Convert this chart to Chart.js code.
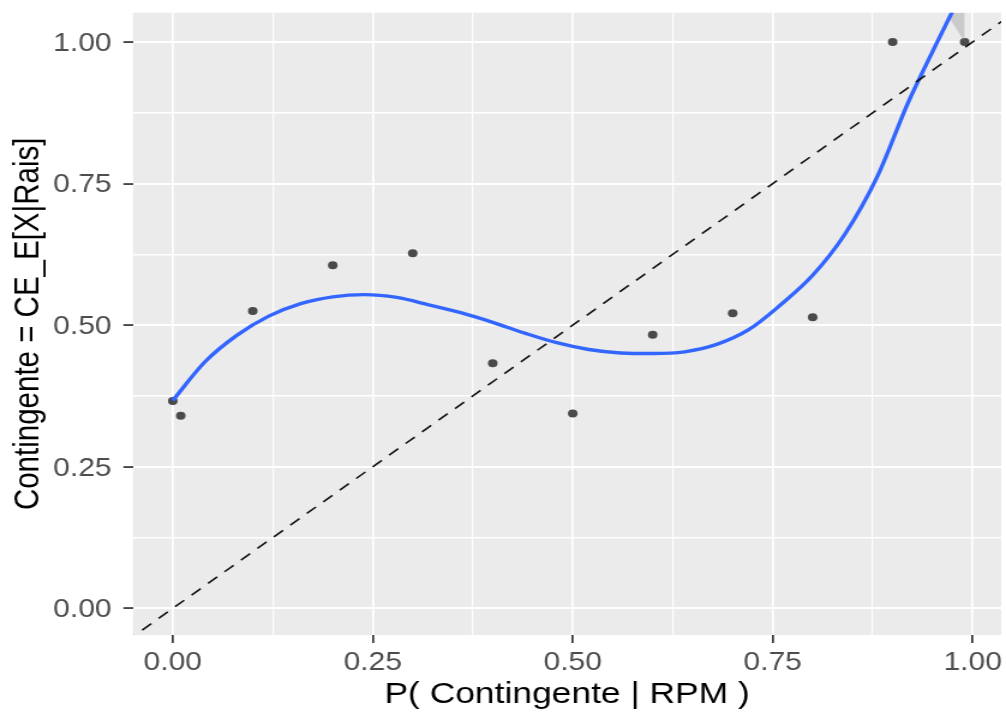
<!DOCTYPE html>
<html><head><meta charset="utf-8">
<script src="https://cdn.jsdelivr.net/npm/chart.js@4.4.0/dist/chart.umd.min.js"></script>
<style>html,body{margin:0;padding:0;background:#fff;overflow:hidden}</style>
</head>
<body>
<canvas id="c" width="838" height="712" style="display:block;width:1006px;height:712px"></canvas>
<script>
// ---- data ----
const pointX = [0, 0.01, 0.1, 0.2, 0.3, 0.4, 0.5, 0.6, 0.7, 0.8, 0.9, 0.99];
const pointY = [0.366, 0.340, 0.525, 0.606, 0.627, 0.433, 0.344, 0.483, 0.521, 0.514, 1.0, 1.0];

const smoothX = [0, 0.04, 0.08, 0.12, 0.16, 0.20, 0.24, 0.28, 0.32, 0.36, 0.40, 0.44, 0.48, 0.52, 0.56, 0.60, 0.64, 0.68, 0.72, 0.76, 0.80, 0.84, 0.88, 0.92, 0.96, 0.975, 0.99];
const smoothY = [0.367, 0.435, 0.482, 0.516, 0.538, 0.550, 0.554, 0.549, 0.536, 0.522, 0.505, 0.486, 0.469, 0.457, 0.451, 0.450, 0.453, 0.466, 0.492, 0.536, 0.588, 0.660, 0.760, 0.895, 1.012, 1.055, 1.100];

const ribbonX = [0.972, 0.990];
const ribbonLow = [1.040, 1.000];
const ribbonHigh = [1.200, 1.200];

const refX = [-0.1, 1.1];   // identity reference line y = x
const refY = [-0.1, 1.1];

const xTickLabels = ['0.00', '0.25', '0.50', '0.75', '1.00'];
const yTickLabels = ['0.00', '0.25', '0.50', '0.75', '1.00'];

const xTitle = 'P( Contingente | RPM )';
const yTitle = 'Contingente = CE_E[X|Rais]';

// ---- helpers ----
const FAMILY = '"Liberation Sans", Arial, Helvetica, sans-serif';
const zip = (xs, ys) => xs.map((x, i) => ({x, y: ys[i]}));
const isMajor = v => Math.abs(v * 4 - Math.round(v * 4)) < 1e-6;
const labelFor = (arr) => (v) => isMajor(v) ? (arr[Math.round(v * 4)] ?? '') : '';

const panelBg = {
  id: 'panelBg',
  beforeDraw(chart) {
    const {ctx, chartArea: a} = chart;
    ctx.save();
    ctx.fillStyle = '#EBEBEB';
    ctx.fillRect(a.left, a.top, a.right - a.left, a.bottom - a.top);
    ctx.restore();
  }
};

function zeroPad(s) { s.paddingTop = 0; s.paddingBottom = 0; s.paddingLeft = 0; s.paddingRight = 0; }

function gridOpts(majorW, minorW) {
  return {
    color: '#FFFFFF',
    lineWidth: c => (c.tick && !isMajor(c.tick.value)) ? minorW : majorW,
    tickColor: c => (c.tick && !isMajor(c.tick.value)) ? 'rgba(0,0,0,0)' : '#333333',
    tickLength: 8,
    tickWidth: 1.7,
    drawTicks: true
  };
}

new Chart(document.getElementById('c'), {
  type: 'scatter',
  data: {
    datasets: [
      { // dashed reference line
        data: zip(refX, refY), showLine: true, pointRadius: 0,
        borderColor: '#111111', borderWidth: 1.6, borderDash: [10, 8],
        clip: 0, fill: false
      },
      { // smooth
        data: zip(smoothX, smoothY), showLine: true, pointRadius: 0,
        borderColor: '#3366FF', borderWidth: 3.4,
        cubicInterpolationMode: 'monotone', clip: 0, fill: false
      },
      { // ribbon upper
        data: zip(ribbonX, ribbonHigh), showLine: true, pointRadius: 0,
        borderWidth: 0, borderColor: 'rgba(0,0,0,0)',
        backgroundColor: 'rgba(153,153,153,0.4)', fill: '+1', clip: 0
      },
      { // ribbon lower
        data: zip(ribbonX, ribbonLow), showLine: true, pointRadius: 0,
        borderWidth: 0, borderColor: 'rgba(0,0,0,0)', fill: false, clip: 0
      },
      { // points
        data: zip(pointX, pointY), showLine: false,
        pointRadius: 4, pointBackgroundColor: '#4A4A4A', pointBorderColor: '#4A4A4A',
        pointBorderWidth: 0, clip: 0
      }
    ]
  },
  options: {
    responsive: false,
    animation: false,
    devicePixelRatio: 1,
    layout: { padding: { top: 12.7, right: 2.3, left: 0, bottom: 0 } },
    plugins: { legend: { display: false }, tooltip: { enabled: false } },
    scales: {
      x: {
        type: 'linear', min: -0.0497, max: 1.0357,
        afterFit(s) { s.height = 77; zeroPad(s); },
        border: { display: false },
        grid: gridOpts(1.7, 1.15),
        ticks: {
          stepSize: 0.125, includeBounds: false, autoSkip: false, maxRotation: 0,
          color: '#4D4D4D', padding: 8,
          font: { family: FAMILY, size: 25, lineHeight: 1 },
          callback: labelFor(xTickLabels)
        },
        title: {
          display: true, text: xTitle, color: '#000000',
          font: { family: FAMILY, size: 29.5, lineHeight: 1 },
          padding: { top: 0, bottom: 2.4 }
        }
      },
      y: {
        type: 'linear', min: -0.047, max: 1.0517,
        afterFit(s) { s.width = 110.8; zeroPad(s); },
        border: { display: false },
        grid: gridOpts(2.1, 1.4),
        ticks: {
          stepSize: 0.125, includeBounds: false, autoSkip: false,
          color: '#4D4D4D', padding: 9.8, labelOffset: 2,
          font: { family: FAMILY, size: 25, lineHeight: 1 },
          callback: labelFor(yTickLabels)
        },
        title: {
          display: true, text: yTitle, color: '#000000',
          font: { family: FAMILY, size: 29.5, lineHeight: 1 },
          padding: { top: 9.4, bottom: 0 }
        }
      }
    }
  },
  plugins: [panelBg]
});
</script>
</body></html>
